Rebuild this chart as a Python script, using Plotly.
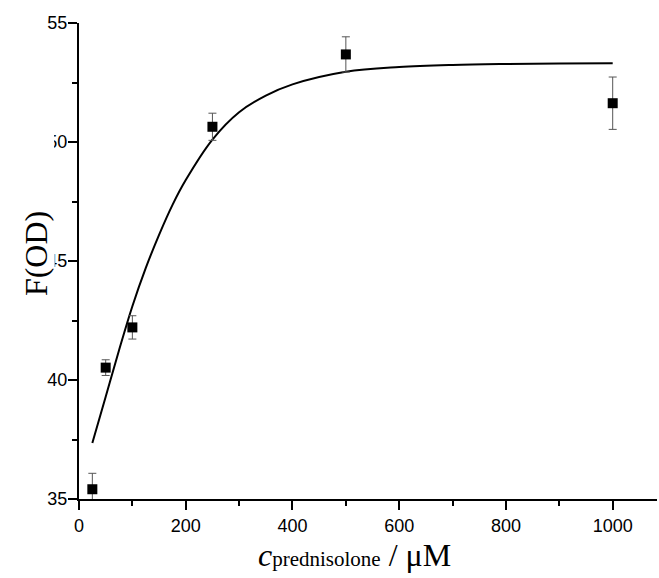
import plotly.graph_objects as go

# measured points
conc = [25, 50, 100, 250, 500, 1000]
f_od = [35.41, 40.52, 42.21, 50.64, 53.68, 51.63]
f_err = [0.67, 0.33, 0.49, 0.57, 0.74, 1.10]

# fitted curve
fit_x = [25, 50, 75, 100, 125, 150, 175, 200, 250, 300, 350, 400, 500, 600, 700, 800, 900, 1000]
fit_y = [37.35, 39.3, 41.25, 43.1, 44.7, 46.1, 47.35, 48.4, 50.1, 51.25, 51.95, 52.42,
         52.95, 53.15, 53.24, 53.28, 53.3, 53.31]

x_ticks = [0, 200, 400, 600, 800, 1000]
y_ticks = [35, 40, 45, 50, 55]

x_title = "<i>c</i><span style='font-size:21px'>prednisolone</span> / μM"
y_title = "F(OD)"

fig = go.Figure()
fig.add_trace(go.Scatter(
    x=fit_x, y=fit_y, mode="lines", line=dict(color="black", width=2, shape="spline"),
    hoverinfo="skip", showlegend=False))
fig.add_trace(go.Scatter(
    x=conc, y=f_od, mode="markers",
    marker=dict(symbol="square", size=10, color="black"),
    error_y=dict(type="data", array=f_err, visible=True, color="#555555", thickness=1, width=4),
    showlegend=False))

tick_font = dict(family="Liberation Sans, Arial, sans-serif", size=18, color="black")
serif = "Liberation Serif, Times New Roman, serif"
fig.update_layout(
    width=659, height=578,
    margin=dict(l=79, r=2, t=23, b=79),
    paper_bgcolor="white", plot_bgcolor="white",
    xaxis=dict(
        range=[0, 1083], tickvals=x_ticks, ticks="outside", ticklen=9, tickwidth=2,
        tickcolor="black", showline=True, linecolor="black", linewidth=2,
        showgrid=False, zeroline=False, tickfont=tick_font,
        minor=dict(dtick=100, tick0=0, ticks="outside", ticklen=5, tickwidth=2, tickcolor="black"),
    ),
    yaxis=dict(
        range=[35, 55], tickvals=y_ticks, ticks="outside", ticklen=9, tickwidth=2,
        tickcolor="black", showline=True, linecolor="black", linewidth=2,
        showgrid=False, zeroline=False, tickfont=tick_font, ticklabelstandoff=-3,
        minor=dict(dtick=2.5, tick0=35, ticks="outside", ticklen=5, tickwidth=2, tickcolor="black"),
    ),
    annotations=[
        dict(text=x_title, xref="paper", yref="paper", x=0.476, y=-0.117,
             xanchor="center", yanchor="middle", showarrow=False,
             font=dict(family=serif, size=32, color="black")),
        dict(text=y_title, xref="paper", yref="paper", x=-0.074, y=0.515,
             xanchor="center", yanchor="middle", showarrow=False, textangle=-90,
             font=dict(family=serif, size=32, color="black")),
    ],
    shapes=[
        dict(type="rect", xref="paper", yref="y", x0=-0.075, x1=-0.043, y0=49.5, y1=50.5,
             fillcolor="white", line=dict(width=0), layer="above"),
        dict(type="rect", xref="paper", yref="y", x0=-0.075, x1=-0.042, y0=44.5, y1=45.5,
             fillcolor="white", line=dict(width=0), layer="above"),
    ],
)

fig.write_html("out.html", config={"displayModeBar": False},
               post_script="document.body.style.margin='0px';")
